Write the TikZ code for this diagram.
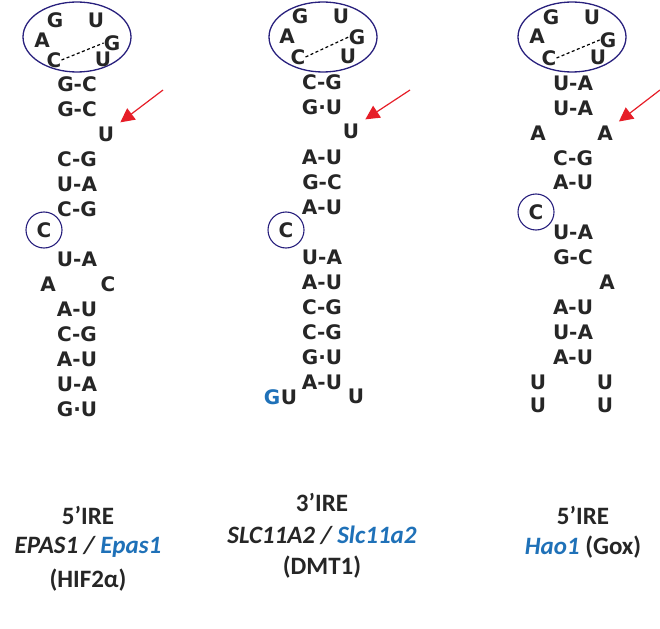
\documentclass[tikz,border=0pt]{standalone}
\usepackage{fontspec}
\newfontfamily\basefont{DejaVu Sans Bold}
\newfontfamily\labelfont{Carlito}
\definecolor{loopblue}{RGB}{40,32,125}
\definecolor{geneblue}{RGB}{31,113,184}
\definecolor{arrowred}{RGB}{230,30,40}
\usetikzlibrary{arrows.meta}
\tikzset{
	base/.style={font=\basefont\fontsize{20}{20}\selectfont, text=black!85, inner sep=0pt},
	lbl/.style={font=\labelfont\bfseries\fontsize{25}{27}\selectfont, text=black!85, inner sep=0pt},
	loopring/.style={draw=loopblue, line width=1.3pt},
	bulge/.style={draw=loopblue, line width=1.1pt, circle, minimum size=36pt, inner sep=0pt},
	pointer/.style={draw=arrowred, line width=1.2pt, -{Triangle[length=14pt,width=14pt]}},
	hbond/.style={dash pattern=on 3pt off 2.5pt, line width=1.2pt}}
\begin{document}
\begin{tikzpicture}[x=1pt,y=-1pt]
	\useasboundingbox (0,0) rectangle (660,628);

	% column 1: EPAS1
	\draw [loopring] (77,37) ellipse [x radius=54, y radius=35];
	\node [base] (aG1) at (55,20) {G};
	\node [base] (aU1) at (96,20) {U};
	\node [base] (aA1) at (42,40) {A};
	\node [base] (aG2) at (112,43) {G};
	\node [base] (aC1) at (54,60) {C};
	\node [base] (aU2) at (103,59) {U};
	\draw [hbond] (aC1.east) -- (aG2.west);
	\foreach \p [count=\i] in {G-C,G-C,,C-G,U-A,C-G,,U-A,,A-U,C-G,A-U,U-A,G·U}
		\node [base] (a\i) at (77,59+25*\i) {\p};
	\node [base] (aU3) at (106,134) {U};
	\node [base, bulge] (aC2) at (44,230) {C};
	\node [base] (aA2) at (48,284) {A};
	\node [base] (aC3) at (108,284) {C};
	\coordinate (aTail) at (163,90);
	\draw [pointer] (aTail) -- ([shift={(6,-4)}]aU3.north east);

	% column 2: SLC11A2
	\draw [loopring] (323,37) ellipse [x radius=54, y radius=35];
	\node [base] (bG1) at (300,16) {G};
	\node [base] (bU1) at (341,16) {U};
	\node [base] (bA1) at (287,36) {A};
	\node [base] (bG2) at (357,37) {G};
	\node [base] (bC1) at (298,57) {C};
	\node [base] (bU2) at (348,56) {U};
	\draw [hbond] (bC1.east) -- (bG2.west);
	\foreach \p [count=\i] in {C-G,G·U,,A-U,G-C,A-U,,U-A,A-U,C-G,C-G,G·U,A-U}
		\node [base] (b\i) at (322,57+25*\i) {\p};
	\node [base] (bU3) at (351,131) {U};
	\node [base, bulge] (bC2) at (286,230) {C};
	\node [base, text=geneblue] (bG3) at (272,397) {G};
	\node [base] (bU4) at (289,397) {U};
	\node [base] (bU5) at (356,396) {U};
	\coordinate (bTail) at (410,90);
	\draw [pointer] (bTail) -- ([shift={(6,-4)}]bU3.north east);

	% column 3: Hao1
	\draw [loopring] (572,37) ellipse [x radius=54, y radius=35];
	\node [base] (cG1) at (551,17) {G};
	\node [base] (cU1) at (592,17) {U};
	\node [base] (cA1) at (537,36) {A};
	\node [base] (cG2) at (608,40) {G};
	\node [base] (cC1) at (549,58) {C};
	\node [base] (cU2) at (598,57) {U};
	\draw [hbond] (cC1.east) -- (cG2.west);
	\foreach \p/\y [count=\i] in {U-A/83,U-A/108,C-G/158,A-U/182,U-A/232,G-C/257,A-U/307,U-A/332,A-U/357}
		\node [base] (c\i) at (573,\y) {\p};
	\node [base] (cA2) at (538,133) {A};
	\node [base] (cA3) at (605,133) {A};
	\node [base, bulge] (cC2) at (536,212) {C};
	\node [base] (cA4) at (607,282) {A};
	\node [base] (cU3) at (538,382) {U};
	\node [base] (cU4) at (605,382) {U};
	\node [base] (cU5) at (538,405) {U};
	\node [base] (cU6) at (605,405) {U};
	\coordinate (cTail) at (660,90);
	\draw [pointer] (cTail) -- ([shift={(6,-4)}]cA3.north east);

	% captions
	\node [lbl] (aName) at (88,515) {5’IRE};
	\node [lbl] (aGene) at (88,547) {\itshape EPAS1 / \textcolor{geneblue}{Epas1}};
	\node [lbl] (aProt) at (88,580) {(HIF2α)};
	\node [lbl] (bName) at (322,502) {3’IRE};
	\node [lbl] (bGene) at (322,535) {\itshape SLC11A2 / \textcolor{geneblue}{Slc11a2}};
	\node [lbl] (bProt) at (322,567) {(DMT1)};
	\node [lbl] (cName) at (583,515) {5’IRE};
	\node [lbl] (cGene) at (583,547) {\textcolor{geneblue}{\itshape Hao1} (Gox)};
\end{tikzpicture}
\end{document}
